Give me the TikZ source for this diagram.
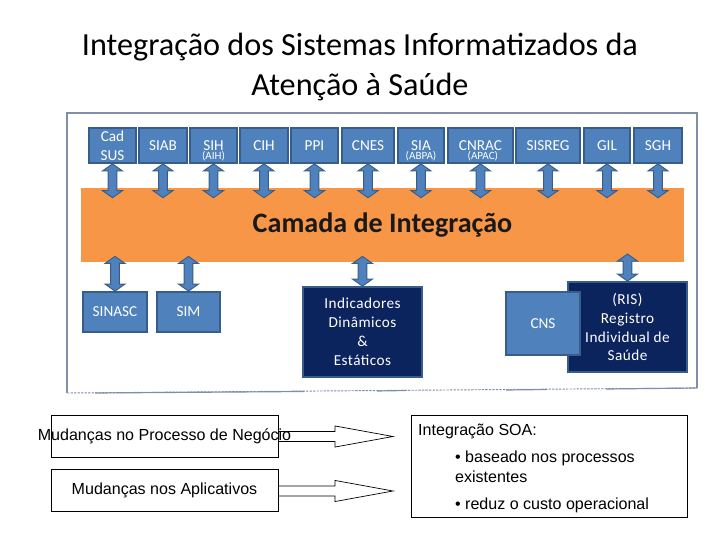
\documentclass[tikz,border=0pt]{standalone}
\usepackage{fontspec}
\setmainfont{Carlito}
\newfontfamily\arialfont{Liberation Sans}
\newfontfamily\spacedfont[LetterSpace=3]{Carlito}
\usetikzlibrary{calc}
\definecolor{sysblue}{RGB}{79,129,189}
\definecolor{sysborder}{RGB}{56,93,138}
\definecolor{navyfill}{RGB}{12,36,94}
\definecolor{bandorange}{RGB}{247,150,70}
\definecolor{framegray}{RGB}{127,143,169}
\def\px{0.03cm}

\begin{document}
\begin{tikzpicture}[x=\px, y=-\px,
  sysbox/.style={draw=sysborder, fill=sysblue, line width=1.5pt, text=white, inner sep=0pt,
    font=\fontsize{13}{16}\selectfont, align=center, minimum height=35*\px, minimum width=#1*\px},
  sublabel/.style={text=white, inner sep=0pt, font=\fontsize{9.5}{9.5}\selectfont},
  navybox/.style={draw=sysborder, fill=navyfill, line width=1.5pt, text=white, inner sep=0pt,
    font=\spacedfont\fontsize{13}{16.2}\selectfont, align=center, minimum width=119*\px, minimum height=90*\px},
  chgbox/.style={draw, line width=0.6pt, minimum width=227*\px, minimum height=42*\px, inner sep=0pt},
  chgtext/.style={inner sep=0pt, font=\arialfont\fontsize{13.7}{16}\selectfont},
  dblarrow/.style={draw=sysborder, fill=sysblue, line width=0.8pt,
    to path={let \p1=(\tikztostart), \p2=(\tikztotarget),
      \p3=($(\p1)!6pt!(\x1,\y2)$), \p4=($(\x1,\y2)!6pt!(\p1)$) in
      (\x1,\y1) -- (\x1+8.5pt,\y3) -- (\x1+3.8pt,\y3) -- (\x1+3.8pt,\y4)
      -- (\x1+8.5pt,\y4) -- (\x1,\y2) -- (\x1-8.5pt,\y4) -- (\x1-3.8pt,\y4)
      -- (\x1-3.8pt,\y3) -- (\x1-8.5pt,\y3) -- cycle}},
  openarrow/.style={draw=black, line width=0.6pt,
    to path={let \p1=(\tikztostart), \p2=(\tikztotarget) in
      (\x1,\y2+4.3pt) -- (\x2-49.5pt,\y2+4.3pt) -- (\x2-49.5pt,\y2+9pt) -- (\x2,\y2)
      -- (\x2-49.5pt,\y2-9pt) -- (\x2-49.5pt,\y2-4.3pt) -- (\x1,\y2-4.3pt)}}
]
  \useasboundingbox (0,0) rectangle (720,540);

  % title
  \node[font=\fontsize{27.5}{34}\selectfont, align=center] (title) at (360,67)
    {Integração dos Sistemas Informatizados da\\Atenção à Saúde};

  % frame (its lower edge is ragged) and integration layer
  \draw[framegray, line width=1pt] (67,393) -- (67,113) -- (697,113) -- (697,388);
  \draw[framegray, line width=0.8pt, dashed, dash pattern=on 2pt off 1pt] (67,393) -- (697,388);
  \draw[framegray, line width=1pt] (95,393) -- (304,391.5) (377,391) -- (406,390.5)
    (506,390) -- (547,389.5) (606,389) -- (697,388);
  \node[fill=bandorange, minimum width=603*\px, minimum height=74*\px, inner sep=0pt,
    font=\bfseries\fontsize{24}{28}\selectfont, text=black!90] (band) at (382.5,225) {Camada de Integração};

  % systems on top
  \node[sysbox=47] (cadsus) at (112.5,145.5) {Cad\\SUS};
  \node[sysbox=48] (siab) at (163,145.5) {SIAB};
  \node[sysbox=47] (sih) at (213.5,145.5) {SIH};
  \node[sublabel] (aih) at ([yshift=-9.4pt]sih.center) {(AIH)};
  \node[sysbox=48] (cih) at (264,145.5) {CIH};
  \node[sysbox=47] (ppi) at (314.5,145.5) {PPI};
  \node[sysbox=52] (cnes) at (368,145.5) {CNES};
  \node[sysbox=46] (sia) at (421,145.5) {SIA};
  \node[sublabel] (abpa) at ([yshift=-9.4pt]sia.center) {(ABPA)};
  \node[sysbox=65] (cnrac) at (480.5,145.5) {CNRAC};
  \node[sublabel] (apac) at ([yshift=-9.4pt,xshift=2pt]cnrac.center) {(APAC)};
  \node[sysbox=64] (sisreg) at (548,145.5) {SISREG};
  \node[sysbox=46] (gil) at (607,145.5) {GIL};
  \node[sysbox=48] (sgh) at (658,145.5) {SGH};

  \draw[dblarrow] (cadsus.south) to ([yshift=-8.5pt]band.north);
  \draw[dblarrow] (siab.south) to ([yshift=-8.5pt]band.north);
  \draw[dblarrow] (sih.south) to ([yshift=-8.5pt]band.north);
  \draw[dblarrow] (cih.south) to ([yshift=-8.5pt]band.north);
  \draw[dblarrow] (ppi.south) to ([yshift=-8.5pt]band.north);
  \draw[dblarrow] (cnes.south) to ([yshift=-8.5pt]band.north);
  \draw[dblarrow] (sia.south) to ([yshift=-8.5pt]band.north);
  \draw[dblarrow] (cnrac.south) to ([yshift=-8.5pt]band.north);
  \draw[dblarrow] (sisreg.south) to ([yshift=-8.5pt]band.north);
  \draw[dblarrow] (gil.south) to ([yshift=-8.5pt]band.north);
  \draw[dblarrow] (sgh.south) to ([yshift=-8.5pt]band.north);

  % systems below
  \node[sysbox=64, minimum height=40*\px] (sinasc) at (115,312) {SINASC};
  \node[sysbox=63, minimum height=40*\px] (sim) at (188.5,312) {SIM};
  \node[navybox] (indic) at (362.5,332) {Indicadores\\Dinâmicos\\\&\\Estáticos};
  \node[navybox] (ris) at (627.5,327) {(RIS)\\Registro\\Individual de\\Saúde};
  \node[sysbox=74, minimum height=63*\px] (cns) at (543,323.5) {CNS};

  \draw[dblarrow] (sinasc.north) to ([yshift=5pt]band.south);
  \draw[dblarrow] (sim.north) to ([yshift=5pt]band.south);
  \draw[dblarrow] (indic.north) to ([yshift=5pt]band.south);
  \draw[dblarrow] (ris.north) to ([yshift=7pt]band.south);

  % changes and SOA
  \node[chgbox] (procbox) at (164.5,436) {};
  \node[chgtext] (proctext) at (procbox) {Mudanças no Processo de Negócio};
  \node[chgbox] (appbox) at (164.5,490) {};
  \node[chgtext] (apptext) at (appbox) {Mudanças nos Aplicativos};
  \coordinate (tip1) at (393,436.5);
  \coordinate (tip2) at (393,491);
  \draw[openarrow] (procbox.east) to (tip1);
  \draw[openarrow] (appbox.east) to (tip2);

  \node[draw, line width=0.6pt, minimum width=276*\px, minimum height=102*\px, inner sep=0pt] (soa) at (549,466) {};
  \node[anchor=north west, inner sep=0pt, align=left, font=\arialfont\fontsize{13.7}{16.8}\selectfont] (soatext)
    at (418,424) {Integração SOA:\\[6.3pt]
    \hspace*{31.5pt}• baseado nos processos\\
    \hspace*{31.5pt}existentes\\[6.5pt]
    \hspace*{31.5pt}• reduz o custo operacional};
\end{tikzpicture}
\end{document}
